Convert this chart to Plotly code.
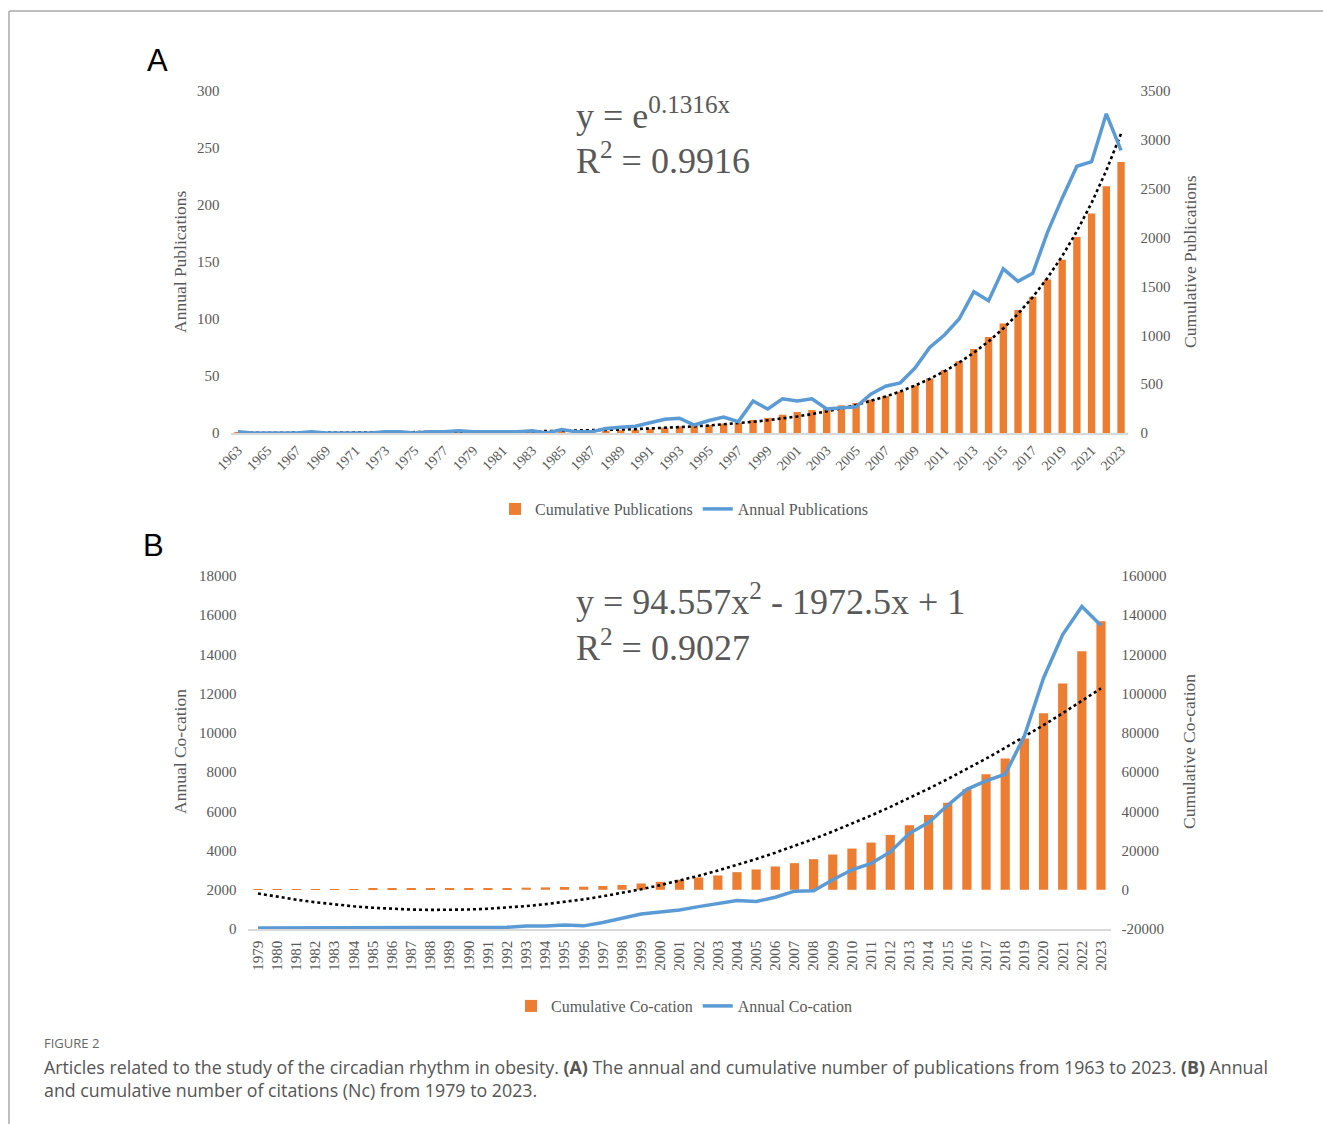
import math
import plotly.graph_objects as go

# ---------------- Panel A data ----------------
years_a = list(range(1963, 2024))
annual_pub = [1, 0, 0, 0, 0, 1, 0, 0, 0, 0,
              1, 1, 0, 1, 1, 2, 1, 1, 1, 1,
              2, 0, 3, 1, 1, 4, 5, 6, 9, 12,
              13, 7, 11, 14, 10, 28, 21, 30, 28, 30,
              21, 22, 23, 34, 41, 44, 57, 75, 86, 100,
              124, 116, 144, 133, 140, 176, 206, 234, 238, 280,
              248]
cumulative_pub = [1, 1, 1, 1, 1, 2, 2, 2, 2, 2,
                  3, 4, 4, 5, 6, 8, 9, 10, 11, 12,
                  14, 14, 17, 18, 19, 23, 28, 34, 43, 55,
                  68, 74, 82, 96, 106, 134, 155, 187, 215, 235,
                  248, 283, 307, 341, 380, 423, 487, 559, 644, 735,
                  860, 982, 1121, 1258, 1394, 1571, 1772, 2007, 2246, 2525,
                  2774]
EXP_B = 0.1316          # y = e^(0.1316x)
A_TICKS_LEFT = [0, 50, 100, 150, 200, 250, 300]
A_TICKS_RIGHT = [0, 500, 1000, 1500, 2000, 2500, 3000, 3500]

# ---------------- Panel B data ----------------
years_b = list(range(1979, 2024))
annual_cit = [45, 50, 55, 60, 65, 60, 65, 70, 70, 65,
              70, 75, 80, 90, 150, 150, 200, 160, 330, 540,
              760, 870, 970, 1140, 1310, 1450, 1400, 1620, 1930, 1950,
              2510, 3020, 3340, 3930, 4880, 5430, 6310, 7120, 7550, 7890,
              9840, 12800, 15010, 16450, 15480]
cumulative_cit = [45, 95, 150, 210, 275, 335, 400, 470, 540, 605,
                  675, 750, 830, 920, 1070, 1220, 1420, 1580, 1910, 2450,
                  3210, 4070, 5090, 6280, 7290, 8990, 10350, 11870, 13570, 15600,
                  17980, 21030, 24080, 27980, 32900, 38160, 44440, 51220, 58850, 66990,
                  77170, 90060, 105150, 121600, 136870]
QUAD_A, QUAD_B, QUAD_C = 94.557, -1972.5, 1.0   # y = 94.557x² - 1972.5x + 1
B_TICKS_LEFT = list(range(0, 18001, 2000))
B_TICKS_RIGHT = list(range(-20000, 160001, 20000))

trend_a = [math.exp(EXP_B * (y - years_a[0] + 1)) for y in years_a]
trend_b = [QUAD_A * (y - years_b[0] + 1) ** 2 + QUAD_B * (y - years_b[0] + 1) + QUAD_C for y in years_b]

ORANGE = "#ED7D31"
BLUE = "#5B9BD5"
GREY = "#595959"
SERIF = "Liberation Serif, Times New Roman, serif"
SANS = "Liberation Sans, Arial, sans-serif"

W, H = 1323, 1124
def px(x):
    return x / W
def py(y):
    return 1 - y / H

fig = go.Figure()

# Panel A
fig.add_trace(go.Bar(x=years_a, y=cumulative_pub, name="Cumulative Publications",
                     marker=dict(color=ORANGE, line=dict(width=0)), width=0.5,
                     xaxis="x", yaxis="y", legend="legend"))
fig.add_trace(go.Scatter(x=years_a, y=trend_a, mode="lines", showlegend=False,
                         line=dict(color="black", width=2.6, dash="dot"),
                         xaxis="x", yaxis="y"))
fig.add_trace(go.Scatter(x=years_a, y=annual_pub, mode="lines", name="Annual Publications",
                         line=dict(color=BLUE, width=3.5),
                         xaxis="x", yaxis="y2", legend="legend"))

# Panel B
fig.add_trace(go.Bar(x=years_b, y=cumulative_cit, name="Cumulative Co-cation",
                     marker=dict(color=ORANGE, line=dict(width=0)), width=0.48,
                     xaxis="x2", yaxis="y3", legend="legend2"))
fig.add_trace(go.Scatter(x=years_b, y=trend_b, mode="lines", showlegend=False,
                         line=dict(color="black", width=2.6, dash="dot"),
                         xaxis="x2", yaxis="y3"))
fig.add_trace(go.Scatter(x=years_b, y=annual_cit, mode="lines", name="Annual Co-cation",
                         line=dict(color=BLUE, width=3.5),
                         xaxis="x2", yaxis="y4", legend="legend2"))

tickfont = dict(family=SERIF, size=15, color=GREY)
common_y = dict(showgrid=False, zeroline=False, showline=False, ticks="",
                tickfont=tickfont, fixedrange=True, automargin=False)

fig.update_layout(
    template="none",
    width=W, height=H, autosize=False,
    margin=dict(l=0, r=0, t=0, b=0, pad=0, autoexpand=False),
    paper_bgcolor="white", plot_bgcolor="white",
    barmode="overlay",
    xaxis=dict(domain=[px(230.6), px(1128.4)], range=[1962.5, 2023.5],
               tickvals=years_a[::2], ticktext=[str(y) for y in years_a[::2]],
               tickangle=-45, showgrid=False, zeroline=False, showline=True,
               linecolor="#D9D9D9", linewidth=1.5, ticks="", anchor="y", automargin=False,
               tickfont=dict(family=SERIF, size=14, color=GREY), ticklabelstandoff=2),
    yaxis=dict(domain=[py(433), py(91)], range=[0, 3500], side="right", anchor="x",
               tickvals=A_TICKS_RIGHT, ticktext=[str(v) for v in A_TICKS_RIGHT],
               ticklabelstandoff=11, **common_y),
    yaxis2=dict(range=[0, 300], side="left", overlaying="y", anchor="x",
                tickvals=A_TICKS_LEFT, ticktext=[str(v) for v in A_TICKS_LEFT],
                ticklabelstandoff=10, **common_y),
    xaxis2=dict(domain=[px(248.4), px(1110.6)], range=[1978.5, 2023.5],
                tickvals=years_b, ticktext=[str(y) for y in years_b],
                tickangle=-90, showgrid=False, zeroline=False, showline=True,
                linecolor="#D9D9D9", linewidth=1.5, ticks="", anchor="y3", automargin=False,
                tickfont=dict(family=SERIF, size=15, color=GREY), ticklabelstandoff=4),
    yaxis3=dict(domain=[py(929), py(576)], range=[-20000, 160000], side="right", anchor="x2",
                tickvals=B_TICKS_RIGHT, ticktext=[str(v) for v in B_TICKS_RIGHT],
                ticklabelstandoff=10, **common_y),
    yaxis4=dict(range=[0, 18000], side="left", overlaying="y3", anchor="x2",
                tickvals=B_TICKS_LEFT, ticktext=[str(v) for v in B_TICKS_LEFT],
                ticklabelstandoff=11, **common_y),
    legend=dict(orientation="h", x=px(684), xanchor="center", y=py(509), yanchor="middle",
                font=dict(family=SERIF, size=16, color=GREY), bgcolor="rgba(0,0,0,0)",
                borderwidth=0, itemwidth=30, tracegroupgap=0),
    legend2=dict(orientation="h", x=px(684), xanchor="center", y=py(1006), yanchor="middle",
                 font=dict(family=SERIF, size=16, color=GREY), bgcolor="rgba(0,0,0,0)",
                 borderwidth=0, itemwidth=30, tracegroupgap=0),
    showlegend=True,
)

ann = []
def note(text, x, y, size, family=SERIF, color=GREY, xanchor="left", yanchor="middle", angle=0):
    ann.append(dict(text=text, x=px(x), y=py(y), xref="paper", yref="paper",
                    xanchor=xanchor, yanchor=yanchor, showarrow=False, textangle=angle,
                    font=dict(family=family, size=size, color=color)))

# panel letters
note("A", 157, 60, 31, family=SANS, color="black", xanchor="center")
note("B", 153, 545, 31, family=SANS, color="black", xanchor="center")
# equations
note("y = e<sup>0.1316x</sup>", 574, 113, 36)
note("R<sup>2</sup> = 0.9916", 574, 159, 36)
note("y = 94.557x<sup>2</sup> - 1972.5x + 1", 574, 599, 36)
note("R<sup>2</sup> = 0.9027", 574, 645, 36)
# axis titles
note("Annual Publications", 180, 262, 17.5, xanchor="center", angle=-90)
note("Cumulative Publications", 1190, 262, 17.5, xanchor="center", angle=-90)
note("Annual Co-cation", 180, 752, 17.5, xanchor="center", angle=-90)
note("Cumulative Co-cation", 1189, 752, 17.5, xanchor="center", angle=-90)
# caption
CAP = "Open Sans, Noto Sans, sans-serif"
note("FIGURE 2", 42, 1043, 13, family=CAP, color="#666666")
note("Articles related to the study of the circadian rhythm in obesity. <b>(A)</b> The annual and cumulative number of publications from 1963 to 2023. <b>(B)</b> Annual",
     42, 1067, 17.8, family=CAP, color="#555555")
note("and cumulative number of citations (Nc) from 1979 to 2023.", 42, 1090, 17.8, family=CAP, color="#555555")
fig.update_layout(annotations=ann)

# page frame
fig.update_layout(shapes=[
    dict(type="line", xref="paper", yref="paper", x0=px(9), x1=1.0, y0=py(11), y1=py(11),
         line=dict(color="#AAAAAA", width=1.5)),
    dict(type="line", xref="paper", yref="paper", x0=px(9), x1=px(9), y0=py(11), y1=0,
         line=dict(color="#AAAAAA", width=1.5)),
])

fig.write_html(
    "out.html",
    config={"displayModeBar": False},
    post_script=(
        "document.documentElement.style.margin='0';"
        "document.documentElement.style.overflow='hidden';"
        "document.body.style.margin='0';"
        "document.body.style.overflow='hidden';"
        "var d=document.getElementById('{plot_id}');"
        "d.style.position='fixed';d.style.left='0px';d.style.top='0px';"
    ),
)
